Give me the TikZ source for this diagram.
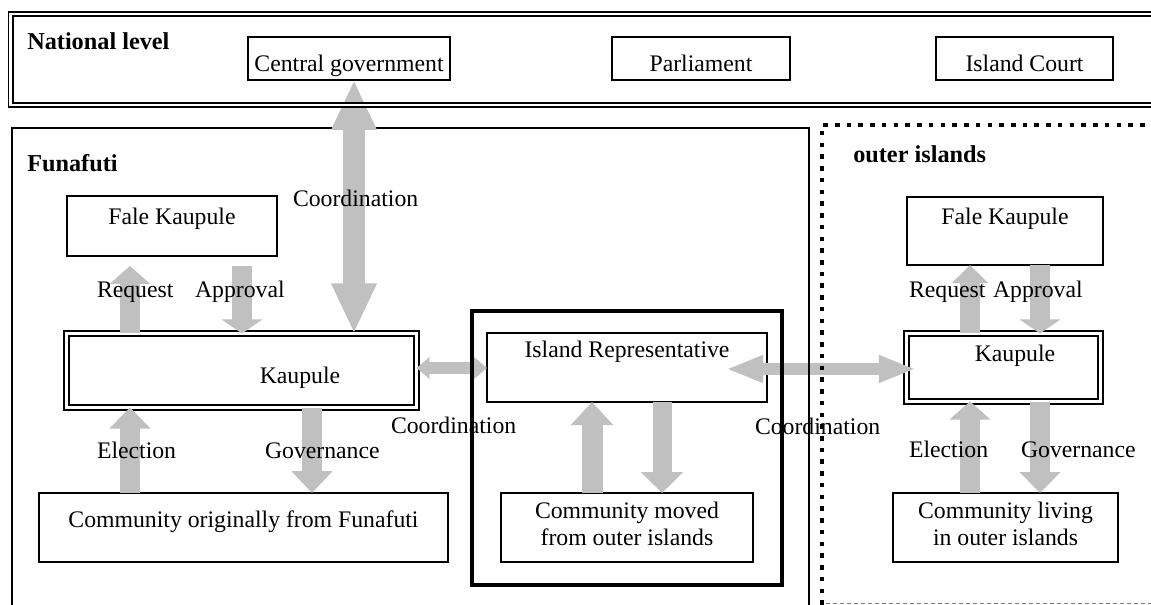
\documentclass[tikz,border=0pt]{standalone}
\usepackage{fontspec}
\setmainfont{Liberation Serif}
\usetikzlibrary{arrows.meta}
\definecolor{arrowgray}{HTML}{C0C0C0}
\begin{document}
\begin{tikzpicture}[x=0.75pt,y=-0.75pt,
  font=\fontsize{17.8pt}{20.25pt}\selectfont,
  box/.style={draw, line width=1.2pt, inner sep=0pt, outer sep=0pt, fill=white},
  dbox/.style={draw, line width=1.45pt, double, double distance=1.8pt, inner sep=0pt, outer sep=0pt, fill=white},
  txt/.style={inner sep=0pt, outer sep=0pt},
  ttl/.style={inner sep=0pt, font=\fontsize{18.2pt}{20pt}\selectfont\bfseries},
  garrow/.style={draw=arrowgray, line cap=butt},
  frame/.style={draw, line width=1pt}]
\clip (0,0) rectangle (1151,605);
\fill[white] (0,0) rectangle (1151,605);

% ---------- boxes ----------
\node[box, minimum width=151.5pt, minimum height=32.25pt] (cg) at (349,58.5) {};
\node[box, minimum width=133.5pt, minimum height=32.25pt] (parl) at (701,58.5) {};
\node[box, minimum width=132.75pt, minimum height=32.25pt] (court) at (1024.5,58.5) {};
\node[txt, anchor=base] (tcg) at (349,71.5) {Central government};
\node[txt, anchor=base] (tparl) at (701,71.5) {Parliament};
\node[txt, anchor=base] (tcourt) at (1024.5,71.5) {Island Court};

\draw[frame] (12,128) rectangle (809,640);

\node[box, minimum width=157.5pt, minimum height=45pt] (fk1) at (172,226) {};
\node[txt, anchor=base] (tfk1) at (172,225) {Fale Kaupule};
\node[box, minimum width=147pt, minimum height=51pt] (fk2) at (1005,231) {};
\node[txt, anchor=base] (tfk2) at (1005,225) {Fale Kaupule};

\node[dbox, minimum width=262.5pt, minimum height=55.5pt] (kl) at (241.5,370.5) {};
\node[txt, anchor=base] (tkl) at (300,383) {Kaupule};
\node[dbox, minimum width=145.5pt, minimum height=51pt] (kr) at (1003.5,367.5) {};
\node[txt, anchor=base] (tkr) at (1015,362) {Kaupule};

\node[box, minimum width=210pt, minimum height=51.75pt] (ir) at (627,367.5) {};
\node[txt, anchor=base] (tir) at (627,358) {Island Representative};

\node[box, minimum width=189pt, minimum height=51.75pt] (cm) at (627,527.5) {};
\node[txt, align=center] (tcm) at (627,524) {Community moved\\from outer islands};
\node[box, minimum width=306.75pt, minimum height=51.75pt] (cf) at (243.5,527.5) {};
\node[txt, anchor=base] (tcf) at (243.5,527) {Community originally from Funafuti};
\node[box, minimum width=168.75pt, minimum height=51.75pt] (cl) at (1005.5,527.5) {};
\node[txt, align=center] (tcl) at (1005.5,524) {Community living\\in outer islands};

% ---------- arrows ----------
\draw[garrow, line width=16.5pt, {Triangle[width=31.5pt,length=37.5pt]}-{Triangle[width=31.5pt,length=37.5pt]}]
  (354,0 |- cg.south) -- (354,0 |- kl.north);
% left side
\draw[garrow, line width=15pt, -{Triangle[width=30pt,length=13.5pt]}, shorten >=7.5pt]
  (130,0 |- kl.north) -- (130,0 |- fk1.south);
\draw[garrow, line width=15pt, -{Triangle[width=30pt,length=10.5pt]}, shorten <=7.5pt]
  (242,0 |- fk1.south) -- (242,0 |- kl.north);
\draw[garrow, line width=15pt, -{Triangle[width=30pt,length=15.75pt]}]
  (130,0 |- cf.north) -- (130,0 |- kl.south);
\draw[garrow, line width=15pt, -{Triangle[width=30pt,length=16.5pt]}]
  (312,0 |- kl.south) -- (312,0 |- cf.north);
% horizontal
\draw[garrow, line width=9pt, {Triangle[width=15.75pt,length=9.75pt]}-{Triangle[width=15.75pt,length=9.75pt]}]
  (kl.east |- 0,368) -- (ir.west |- 0,368);
\draw[garrow, line width=9pt, {Triangle[width=18.75pt,length=27.75pt]}-{Triangle[width=18.75pt,length=27.75pt]}, shorten <=-30.75pt, shorten >=-7.1pt]
  (ir.east |- 0,369) -- (kr.west |- 0,369);
% community moved
\draw[garrow, line width=15.75pt, -{Triangle[width=30.75pt,length=17.25pt]}]
  (592,0 |- cm.north) -- (592,0 |- ir.south);
\draw[garrow, line width=14.25pt, -{Triangle[width=30.75pt,length=15.75pt]}]
  (662,0 |- ir.south) -- (662,0 |- cm.north);
% right side
\draw[garrow, line width=15pt, -{Triangle[width=26.25pt,length=13.5pt]}]
  (970,0 |- kr.north) -- (970,0 |- fk2.south);
\draw[garrow, line width=15pt, -{Triangle[width=30pt,length=10.5pt]}]
  (1040,0 |- fk2.south) -- (1040,0 |- kr.north);
\draw[garrow, line width=15pt, -{Triangle[width=30pt,length=13.5pt]}]
  (970,0 |- cl.north) -- (970,0 |- kr.south);
\draw[garrow, line width=15pt, -{Triangle[width=30pt,length=15.75pt]}]
  (1040,0 |- kr.south) -- (1040,0 |- cl.north);

% ---------- frames on top ----------
\draw[line width=1pt] (809,300) -- (809,640);
\draw[line width=2.4pt] (472,311) rectangle (782,585);
\draw[line width=3.4pt, dash pattern=on 3.4pt off 5.4pt] (822,640) -- (822,125) -- (1170,125);
\draw[gray, line width=0.75pt, dash pattern=on 3pt off 2.25pt] (826,603) -- (1170,603);
\draw[line width=1.35pt, double, double distance=1.8pt] (10.5,14) rectangle (1170,105);

% ---------- titles ----------
\node[ttl, anchor=base west] (tnat) at (27,50) {National level};
\node[ttl, anchor=base west] (tfun) at (27,172) {Funafuti};
\node[ttl, anchor=base west] (tout) at (853,163) {outer islands};

% ---------- labels ----------
\node[txt, anchor=base west] (lcoordv) at (293,207) {Coordination};
\node[txt, anchor=base west] (lreq1) at (97,298) {Request};
\node[txt, anchor=base west] (lapp1) at (195,298) {Approval};
\node[txt, anchor=base west] (lel1) at (97,458) {Election};
\node[txt, anchor=base west] (lgov1) at (265,458) {Governance};
\node[txt, anchor=base west] (lcoordl) at (391,433) {Coordination};
\node[txt, anchor=base west] (lcoordr) at (755,434) {Coordination};
\node[txt, anchor=base west] (lreq2) at (909,298) {Request};
\node[txt, anchor=base west] (lapp2) at (993,298) {Approval};
\node[txt, anchor=base west] (lel2) at (909,457) {Election};
\node[txt, anchor=base west] (lgov2) at (1021,457) {Governance};
\end{tikzpicture}
\end{document}
